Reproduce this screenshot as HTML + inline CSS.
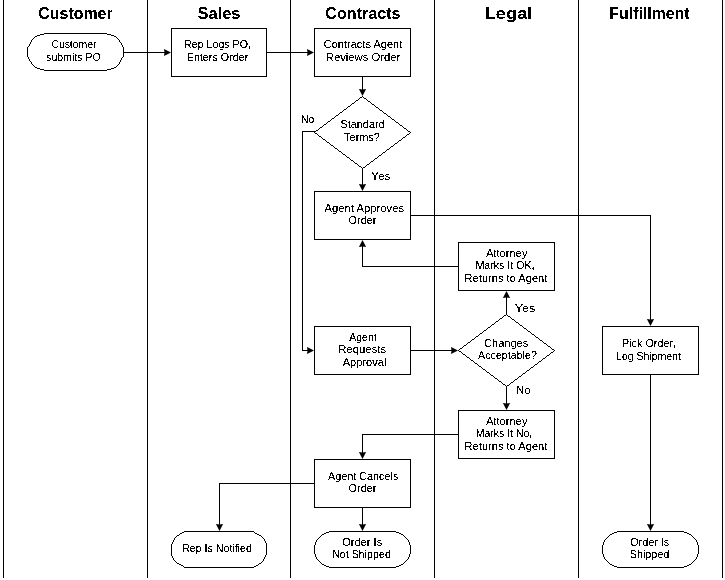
<!DOCTYPE html>
<html><head><meta charset="utf-8"><style>
html,body{margin:0;padding:0;background:#fff;width:725px;height:580px;overflow:hidden}
svg{display:block;filter:grayscale(1)}
.s{fill:#fff;stroke:#000;stroke-width:1;shape-rendering:crispEdges}
.f,.ah{fill:#000}
.d{stroke-width:0.8}
text{font-family:"Liberation Sans",sans-serif;fill:#000;font-variant-ligatures:none;font-feature-settings:"liga" 0,"clig" 0}
.t{font-size:11px}
.h{font-size:16px;font-weight:bold}
</style></head><body>
<svg width="725" height="580" viewBox="0 0 725 580">
<rect class="f" x="3" y="0" width="1" height="578"/>
<rect class="f" x="147" y="0" width="1" height="578"/>
<rect class="f" x="290" y="0" width="1" height="578"/>
<rect class="f" x="434" y="0" width="1" height="578"/>
<rect class="f" x="578" y="0" width="1" height="578"/>
<rect class="f" x="722" y="0" width="1" height="578"/>
<rect class="f" x="123" y="52" width="42" height="1"/>
<polygon class="ah" points="171.00,52.50 164.00,48.90 164.50,52.50 164.00,56.10"/>
<rect class="f" x="266" y="52" width="42" height="1"/>
<polygon class="ah" points="314.00,52.50 307.00,48.90 307.50,52.50 307.00,56.10"/>
<rect class="f" x="362" y="76" width="1" height="14"/>
<polygon class="ah" points="362.50,96.00 358.90,89.00 362.50,89.50 366.10,89.00"/>
<rect class="f" x="362" y="168" width="1" height="17"/>
<polygon class="ah" points="362.50,191.00 358.90,184.00 362.50,184.50 366.10,184.00"/>
<rect class="f" x="302" y="131" width="13" height="1"/>
<rect class="f" x="302" y="131" width="1" height="220"/>
<rect class="f" x="302" y="350" width="6" height="1"/>
<polygon class="ah" points="314.00,350.50 307.00,346.90 307.50,350.50 307.00,354.10"/>
<rect class="f" x="410" y="215" width="241" height="1"/>
<rect class="f" x="650" y="215" width="1" height="105"/>
<polygon class="ah" points="650.50,326.00 646.90,319.00 650.50,319.50 654.10,319.00"/>
<rect class="f" x="362" y="266" width="97" height="1"/>
<rect class="f" x="362" y="246" width="1" height="21"/>
<polygon class="ah" points="362.50,240.00 358.90,247.00 362.50,246.50 366.10,247.00"/>
<rect class="f" x="410" y="350" width="42" height="1"/>
<polygon class="ah" points="458.00,350.50 451.00,346.90 451.50,350.50 451.00,354.10"/>
<rect class="f" x="506" y="297" width="1" height="18"/>
<polygon class="ah" points="506.50,291.00 502.90,298.00 506.50,297.50 510.10,298.00"/>
<rect class="f" x="506" y="386" width="1" height="18"/>
<polygon class="ah" points="506.50,410.00 502.90,403.00 506.50,403.50 510.10,403.00"/>
<rect class="f" x="362" y="434" width="97" height="1"/>
<rect class="f" x="362" y="434" width="1" height="19"/>
<polygon class="ah" points="362.50,459.00 358.90,452.00 362.50,452.50 366.10,452.00"/>
<rect class="f" x="219" y="483" width="96" height="1"/>
<rect class="f" x="219" y="483" width="1" height="42"/>
<polygon class="ah" points="219.50,531.00 215.90,524.00 219.50,524.50 223.10,524.00"/>
<rect class="f" x="362" y="507" width="1" height="18"/>
<polygon class="ah" points="362.50,531.00 358.90,524.00 362.50,524.50 366.10,524.00"/>
<rect class="f" x="650" y="374" width="1" height="151"/>
<polygon class="ah" points="650.50,531.00 646.90,524.00 650.50,524.50 654.10,524.00"/>
<rect class="s" x="171.5" y="28.5" width="95" height="48"/>
<rect class="s" x="314.5" y="28.5" width="96" height="48"/>
<rect class="s" x="314.5" y="191.5" width="96" height="48"/>
<rect class="s" x="458.5" y="242.5" width="96" height="48"/>
<rect class="s" x="314.5" y="326.5" width="96" height="48"/>
<rect class="s" x="602.5" y="326.5" width="96" height="48"/>
<rect class="s" x="458.5" y="410.5" width="96" height="48"/>
<rect class="s" x="314.5" y="459.5" width="96" height="48"/>
<path class="f" d="M44 33h63v1h-63zM40 34h4v1h-4zM107 34h4v1h-4zM37 35h3v1h-3zM111 35h3v1h-3zM35 36h2v1h-2zM114 36h2v1h-2zM34 37h1v1h-1zM116 37h1v1h-1zM33 38h1v1h-1zM117 38h1v1h-1zM32 39h1v1h-1zM118 39h1v1h-1zM31 40h1v1h-1zM119 40h1v1h-1zM31 41h1v1h-1zM119 41h1v1h-1zM30 42h1v1h-1zM120 42h1v1h-1zM30 43h1v1h-1zM121 43h1v1h-1zM29 44h1v1h-1zM121 44h1v1h-1zM29 45h1v1h-1zM122 45h1v1h-1zM28 46h1v1h-1zM122 46h1v1h-1zM27 47h1v1h-1zM123 47h1v1h-1zM27 48h1v1h-1zM123 48h1v1h-1zM27 49h1v1h-1zM123 49h1v1h-1zM27 50h1v1h-1zM123 50h1v1h-1zM27 51h1v1h-1zM123 51h1v1h-1zM27 52h1v1h-1zM123 52h1v1h-1zM27 53h1v1h-1zM123 53h1v1h-1zM27 54h1v1h-1zM123 54h1v1h-1zM27 55h1v1h-1zM123 55h1v1h-1zM27 56h1v1h-1zM123 56h1v1h-1zM28 57h1v1h-1zM122 57h1v1h-1zM28 58h1v1h-1zM121 58h1v1h-1zM29 59h1v1h-1zM121 59h1v1h-1zM29 60h1v1h-1zM120 60h1v1h-1zM30 61h1v1h-1zM120 61h1v1h-1zM31 62h1v1h-1zM119 62h1v1h-1zM31 63h1v1h-1zM119 63h1v1h-1zM32 64h1v1h-1zM118 64h1v1h-1zM33 65h1v1h-1zM117 65h1v1h-1zM34 66h1v1h-1zM116 66h1v1h-1zM35 67h2v1h-2zM114 67h2v1h-2zM37 68h3v1h-3zM111 68h3v1h-3zM40 69h4v1h-4zM107 69h4v1h-4zM44 70h63v1h-63zM362 96h1v1h-1zM360 97h2v1h-2zM363 97h1v1h-1zM359 98h1v1h-1zM364 98h2v1h-2zM358 99h1v1h-1zM366 99h1v1h-1zM356 100h2v1h-2zM367 100h1v1h-1zM355 101h1v1h-1zM368 101h2v1h-2zM354 102h1v1h-1zM370 102h1v1h-1zM352 103h2v1h-2zM371 103h1v1h-1zM351 104h1v1h-1zM372 104h2v1h-2zM350 105h1v1h-1zM374 105h1v1h-1zM348 106h2v1h-2zM375 106h1v1h-1zM347 107h1v1h-1zM376 107h2v1h-2zM346 108h1v1h-1zM378 108h1v1h-1zM344 109h2v1h-2zM379 109h1v1h-1zM343 110h1v1h-1zM380 110h2v1h-2zM342 111h1v1h-1zM382 111h1v1h-1zM340 112h2v1h-2zM383 112h1v1h-1zM339 113h1v1h-1zM384 113h2v1h-2zM338 114h1v1h-1zM386 114h1v1h-1zM336 115h2v1h-2zM387 115h1v1h-1zM335 116h1v1h-1zM388 116h2v1h-2zM334 117h1v1h-1zM390 117h1v1h-1zM332 118h2v1h-2zM391 118h1v1h-1zM331 119h1v1h-1zM392 119h2v1h-2zM330 120h1v1h-1zM394 120h1v1h-1zM328 121h2v1h-2zM395 121h1v1h-1zM327 122h1v1h-1zM396 122h2v1h-2zM326 123h1v1h-1zM398 123h1v1h-1zM324 124h2v1h-2zM399 124h1v1h-1zM323 125h1v1h-1zM400 125h2v1h-2zM322 126h1v1h-1zM402 126h1v1h-1zM320 127h2v1h-2zM403 127h1v1h-1zM319 128h1v1h-1zM404 128h2v1h-2zM318 129h1v1h-1zM406 129h1v1h-1zM316 130h2v1h-2zM407 130h1v1h-1zM315 131h1v1h-1zM408 131h2v1h-2zM314 132h1v1h-1zM410 132h1v1h-1zM315 133h2v1h-2zM409 133h1v1h-1zM317 134h1v1h-1zM407 134h2v1h-2zM318 135h1v1h-1zM406 135h1v1h-1zM319 136h2v1h-2zM405 136h1v1h-1zM321 137h1v1h-1zM403 137h2v1h-2zM322 138h1v1h-1zM402 138h1v1h-1zM323 139h2v1h-2zM401 139h1v1h-1zM325 140h1v1h-1zM399 140h2v1h-2zM326 141h1v1h-1zM398 141h1v1h-1zM327 142h2v1h-2zM397 142h1v1h-1zM329 143h1v1h-1zM395 143h2v1h-2zM330 144h1v1h-1zM394 144h1v1h-1zM331 145h2v1h-2zM393 145h1v1h-1zM333 146h1v1h-1zM391 146h2v1h-2zM334 147h1v1h-1zM390 147h1v1h-1zM335 148h2v1h-2zM389 148h1v1h-1zM337 149h1v1h-1zM387 149h2v1h-2zM338 150h1v1h-1zM386 150h1v1h-1zM339 151h2v1h-2zM385 151h1v1h-1zM341 152h1v1h-1zM383 152h2v1h-2zM342 153h1v1h-1zM382 153h1v1h-1zM343 154h2v1h-2zM381 154h1v1h-1zM345 155h1v1h-1zM379 155h2v1h-2zM346 156h1v1h-1zM378 156h1v1h-1zM347 157h2v1h-2zM377 157h1v1h-1zM349 158h1v1h-1zM375 158h2v1h-2zM350 159h1v1h-1zM374 159h1v1h-1zM351 160h2v1h-2zM373 160h1v1h-1zM353 161h1v1h-1zM371 161h2v1h-2zM354 162h1v1h-1zM370 162h1v1h-1zM355 163h2v1h-2zM369 163h1v1h-1zM357 164h1v1h-1zM367 164h2v1h-2zM358 165h1v1h-1zM366 165h1v1h-1zM359 166h2v1h-2zM365 166h1v1h-1zM361 167h1v1h-1zM363 167h2v1h-2zM362 168h1v1h-1zM506 314h1v1h-1zM504 315h2v1h-2zM507 315h1v1h-1zM503 316h1v1h-1zM508 316h2v1h-2zM502 317h1v1h-1zM510 317h1v1h-1zM500 318h2v1h-2zM511 318h1v1h-1zM499 319h1v1h-1zM512 319h2v1h-2zM498 320h1v1h-1zM514 320h1v1h-1zM496 321h2v1h-2zM515 321h1v1h-1zM495 322h1v1h-1zM516 322h2v1h-2zM494 323h1v1h-1zM518 323h1v1h-1zM492 324h2v1h-2zM519 324h1v1h-1zM491 325h1v1h-1zM520 325h2v1h-2zM490 326h1v1h-1zM522 326h1v1h-1zM488 327h2v1h-2zM523 327h1v1h-1zM487 328h1v1h-1zM524 328h2v1h-2zM486 329h1v1h-1zM526 329h1v1h-1zM484 330h2v1h-2zM527 330h1v1h-1zM483 331h1v1h-1zM528 331h2v1h-2zM482 332h1v1h-1zM530 332h1v1h-1zM480 333h2v1h-2zM531 333h1v1h-1zM479 334h1v1h-1zM532 334h2v1h-2zM478 335h1v1h-1zM534 335h1v1h-1zM476 336h2v1h-2zM535 336h1v1h-1zM475 337h1v1h-1zM536 337h2v1h-2zM474 338h1v1h-1zM538 338h1v1h-1zM472 339h2v1h-2zM539 339h1v1h-1zM471 340h1v1h-1zM540 340h2v1h-2zM470 341h1v1h-1zM542 341h1v1h-1zM468 342h2v1h-2zM543 342h1v1h-1zM467 343h1v1h-1zM544 343h2v1h-2zM466 344h1v1h-1zM546 344h1v1h-1zM464 345h2v1h-2zM547 345h1v1h-1zM463 346h1v1h-1zM548 346h2v1h-2zM462 347h1v1h-1zM550 347h1v1h-1zM460 348h2v1h-2zM551 348h1v1h-1zM459 349h1v1h-1zM552 349h2v1h-2zM458 350h1v1h-1zM554 350h1v1h-1zM459 351h2v1h-2zM553 351h1v1h-1zM461 352h1v1h-1zM551 352h2v1h-2zM462 353h1v1h-1zM550 353h1v1h-1zM463 354h2v1h-2zM549 354h1v1h-1zM465 355h1v1h-1zM547 355h2v1h-2zM466 356h1v1h-1zM546 356h1v1h-1zM467 357h2v1h-2zM545 357h1v1h-1zM469 358h1v1h-1zM543 358h2v1h-2zM470 359h1v1h-1zM542 359h1v1h-1zM471 360h2v1h-2zM541 360h1v1h-1zM473 361h1v1h-1zM539 361h2v1h-2zM474 362h1v1h-1zM538 362h1v1h-1zM475 363h2v1h-2zM537 363h1v1h-1zM477 364h1v1h-1zM535 364h2v1h-2zM478 365h1v1h-1zM534 365h1v1h-1zM479 366h2v1h-2zM533 366h1v1h-1zM481 367h1v1h-1zM531 367h2v1h-2zM482 368h1v1h-1zM530 368h1v1h-1zM483 369h2v1h-2zM529 369h1v1h-1zM485 370h1v1h-1zM527 370h2v1h-2zM486 371h1v1h-1zM526 371h1v1h-1zM487 372h2v1h-2zM525 372h1v1h-1zM489 373h1v1h-1zM523 373h2v1h-2zM490 374h1v1h-1zM522 374h1v1h-1zM491 375h2v1h-2zM521 375h1v1h-1zM493 376h1v1h-1zM519 376h2v1h-2zM494 377h1v1h-1zM518 377h1v1h-1zM495 378h2v1h-2zM517 378h1v1h-1zM497 379h1v1h-1zM515 379h2v1h-2zM498 380h1v1h-1zM514 380h1v1h-1zM499 381h2v1h-2zM513 381h1v1h-1zM501 382h1v1h-1zM511 382h2v1h-2zM502 383h1v1h-1zM510 383h1v1h-1zM503 384h2v1h-2zM509 384h1v1h-1zM505 385h1v1h-1zM507 385h2v1h-2zM506 386h1v1h-1zM184 531h70v1h-70zM329 531h67v1h-67zM617 531h67v1h-67zM182 532h2v1h-2zM254 532h1v1h-1zM326 532h3v1h-3zM396 532h3v1h-3zM614 532h3v1h-3zM684 532h3v1h-3zM180 533h2v1h-2zM255 533h2v1h-2zM324 533h2v1h-2zM399 533h2v1h-2zM612 533h2v1h-2zM687 533h2v1h-2zM179 534h1v1h-1zM257 534h2v1h-2zM322 534h2v1h-2zM401 534h2v1h-2zM610 534h2v1h-2zM689 534h2v1h-2zM177 535h2v1h-2zM259 535h2v1h-2zM321 535h1v1h-1zM403 535h1v1h-1zM609 535h1v1h-1zM691 535h1v1h-1zM176 536h1v1h-1zM261 536h1v1h-1zM320 536h1v1h-1zM404 536h1v1h-1zM608 536h1v1h-1zM692 536h1v1h-1zM175 537h1v1h-1zM262 537h1v1h-1zM319 537h1v1h-1zM405 537h1v1h-1zM607 537h1v1h-1zM693 537h1v1h-1zM174 538h1v1h-1zM263 538h1v1h-1zM318 538h1v1h-1zM406 538h1v1h-1zM606 538h1v1h-1zM694 538h1v1h-1zM174 539h1v1h-1zM264 539h1v1h-1zM317 539h1v1h-1zM407 539h1v1h-1zM605 539h1v1h-1zM695 539h1v1h-1zM173 540h1v1h-1zM264 540h1v1h-1zM316 540h1v1h-1zM408 540h1v1h-1zM604 540h1v1h-1zM696 540h1v1h-1zM173 541h1v1h-1zM265 541h1v1h-1zM316 541h1v1h-1zM408 541h1v1h-1zM604 541h1v1h-1zM696 541h1v1h-1zM172 542h1v1h-1zM265 542h1v1h-1zM315 542h1v1h-1zM409 542h1v1h-1zM603 542h1v1h-1zM697 542h1v1h-1zM172 543h1v1h-1zM266 543h1v1h-1zM315 543h1v1h-1zM409 543h1v1h-1zM603 543h1v1h-1zM697 543h1v1h-1zM171 544h1v1h-1zM266 544h1v1h-1zM315 544h1v1h-1zM409 544h1v1h-1zM603 544h1v1h-1zM697 544h1v1h-1zM171 545h1v1h-1zM266 545h1v1h-1zM314 545h1v1h-1zM410 545h1v1h-1zM602 545h1v1h-1zM698 545h1v1h-1zM171 546h1v1h-1zM266 546h1v1h-1zM314 546h1v1h-1zM410 546h1v1h-1zM602 546h1v1h-1zM698 546h1v1h-1zM171 547h1v1h-1zM266 547h1v1h-1zM314 547h1v1h-1zM410 547h1v1h-1zM602 547h1v1h-1zM698 547h1v1h-1zM171 548h1v1h-1zM266 548h1v1h-1zM314 548h1v1h-1zM410 548h1v1h-1zM602 548h1v1h-1zM698 548h1v1h-1zM171 549h1v1h-1zM266 549h1v1h-1zM314 549h1v1h-1zM410 549h1v1h-1zM602 549h1v1h-1zM698 549h1v1h-1zM171 550h1v1h-1zM266 550h1v1h-1zM314 550h1v1h-1zM410 550h1v1h-1zM602 550h1v1h-1zM698 550h1v1h-1zM171 551h1v1h-1zM266 551h1v1h-1zM314 551h1v1h-1zM410 551h1v1h-1zM602 551h1v1h-1zM698 551h1v1h-1zM171 552h1v1h-1zM266 552h1v1h-1zM314 552h1v1h-1zM410 552h1v1h-1zM602 552h1v1h-1zM698 552h1v1h-1zM171 553h1v1h-1zM266 553h1v1h-1zM314 553h1v1h-1zM410 553h1v1h-1zM602 553h1v1h-1zM698 553h1v1h-1zM171 554h1v1h-1zM266 554h1v1h-1zM315 554h1v1h-1zM409 554h1v1h-1zM603 554h1v1h-1zM697 554h1v1h-1zM171 555h1v1h-1zM265 555h1v1h-1zM315 555h1v1h-1zM409 555h1v1h-1zM603 555h1v1h-1zM697 555h1v1h-1zM172 556h1v1h-1zM265 556h1v1h-1zM315 556h1v1h-1zM409 556h1v1h-1zM603 556h1v1h-1zM697 556h1v1h-1zM172 557h1v1h-1zM264 557h1v1h-1zM316 557h1v1h-1zM408 557h1v1h-1zM604 557h1v1h-1zM696 557h1v1h-1zM173 558h1v1h-1zM264 558h1v1h-1zM316 558h1v1h-1zM408 558h1v1h-1zM604 558h1v1h-1zM696 558h1v1h-1zM173 559h1v1h-1zM263 559h1v1h-1zM317 559h1v1h-1zM407 559h1v1h-1zM605 559h1v1h-1zM695 559h1v1h-1zM174 560h1v1h-1zM263 560h1v1h-1zM318 560h1v1h-1zM406 560h1v1h-1zM606 560h1v1h-1zM694 560h1v1h-1zM175 561h1v1h-1zM262 561h1v1h-1zM319 561h1v1h-1zM405 561h1v1h-1zM607 561h1v1h-1zM693 561h1v1h-1zM176 562h1v1h-1zM261 562h1v1h-1zM320 562h1v1h-1zM404 562h1v1h-1zM608 562h1v1h-1zM692 562h1v1h-1zM177 563h2v1h-2zM259 563h2v1h-2zM321 563h1v1h-1zM403 563h1v1h-1zM609 563h1v1h-1zM691 563h1v1h-1zM179 564h2v1h-2zM258 564h1v1h-1zM322 564h2v1h-2zM401 564h2v1h-2zM610 564h2v1h-2zM689 564h2v1h-2zM181 565h2v1h-2zM256 565h2v1h-2zM324 565h2v1h-2zM399 565h2v1h-2zM612 565h2v1h-2zM687 565h2v1h-2zM183 566h1v1h-1zM254 566h2v1h-2zM326 566h3v1h-3zM396 566h3v1h-3zM614 566h3v1h-3zM684 566h3v1h-3zM184 567h70v1h-70zM329 567h67v1h-67zM617 567h67v1h-67z"/>
<defs><filter id="th" x="0" y="0" width="725" height="580" filterUnits="userSpaceOnUse"><feComponentTransfer><feFuncA type="discrete" tableValues="0 0 0 0 0 0 0 0 0 1 1 1 1 1 1 1 1 1 1 1"/></feComponentTransfer></filter></defs>
<g filter="url(#th)">
<text class="h" x="38.31" y="19" textLength="74.40" lengthAdjust="spacingAndGlyphs">Customer</text>
<text class="h" x="197.48" y="19" textLength="42.98" lengthAdjust="spacingAndGlyphs">Sales</text>
<text class="h" x="325.39" y="19" textLength="75.11" lengthAdjust="spacingAndGlyphs">Contracts</text>
<text class="h" x="484.67" y="19" textLength="47.72" lengthAdjust="spacingAndGlyphs">Legal</text>
<text class="h" x="609.37" y="19" textLength="80.18" lengthAdjust="spacingAndGlyphs">Fulfillment</text>
<text class="t" x="51.42" y="48" textLength="45.02" lengthAdjust="spacingAndGlyphs">Customer</text>
<text class="t" x="46.12" y="61" textLength="54.52" lengthAdjust="spacingAndGlyphs">submits PO</text>
<text class="t" x="184.10" y="48" textLength="66.84" lengthAdjust="spacingAndGlyphs">Rep Logs PO<tspan font-weight="bold">,</tspan></text>
<text class="t" x="186.71" y="61" textLength="61.64" lengthAdjust="spacingAndGlyphs">Enters Order</text>
<text class="t" x="323.75" y="48" textLength="78.50" lengthAdjust="spacingAndGlyphs">Contracts Agent</text>
<text class="t" x="325.83" y="61" textLength="74.32" lengthAdjust="spacingAndGlyphs">Reviews Order</text>
<text class="t" x="340.38" y="128" textLength="44.28" lengthAdjust="spacingAndGlyphs">Standard</text>
<text class="t" x="344.11" y="141" textLength="35.78" lengthAdjust="spacingAndGlyphs">Terms?</text>
<text class="t" x="324.46" y="212" textLength="79.61" lengthAdjust="spacingAndGlyphs">Agent Approves</text>
<text class="t" x="348.50" y="224" textLength="27.96" lengthAdjust="spacingAndGlyphs">Order</text>
<text class="t" x="485.91" y="257" textLength="41.68" lengthAdjust="spacingAndGlyphs">Attorney</text>
<text class="t" x="475.40" y="269" textLength="59.20" lengthAdjust="spacingAndGlyphs">Marks It OK<tspan font-weight="bold">,</tspan></text>
<text class="t" x="464.62" y="282" textLength="82.75" lengthAdjust="spacingAndGlyphs">Returns to Agent</text>
<text class="t" x="349.35" y="341" textLength="27.25" lengthAdjust="spacingAndGlyphs">Agent</text>
<text class="t" x="338.36" y="353" textLength="47.72" lengthAdjust="spacingAndGlyphs">Requests</text>
<text class="t" x="342.68" y="366" textLength="43.68" lengthAdjust="spacingAndGlyphs">Approval</text>
<text class="t" x="484.06" y="347" textLength="44.25" lengthAdjust="spacingAndGlyphs">Changes</text>
<text class="t" x="478.06" y="359" textLength="58.87" lengthAdjust="spacingAndGlyphs">Acceptable?</text>
<text class="t" x="621.95" y="347" textLength="54.11" lengthAdjust="spacingAndGlyphs">Pick Order<tspan font-weight="bold">,</tspan></text>
<text class="t" x="616.04" y="360" textLength="64.94" lengthAdjust="spacingAndGlyphs">Log Shipment</text>
<text class="t" x="485.91" y="425" textLength="41.68" lengthAdjust="spacingAndGlyphs">Attorney</text>
<text class="t" x="475.86" y="437" textLength="56.27" lengthAdjust="spacingAndGlyphs">Marks It No<tspan font-weight="bold">,</tspan></text>
<text class="t" x="464.62" y="450" textLength="82.75" lengthAdjust="spacingAndGlyphs">Returns to Agent</text>
<text class="t" x="328.07" y="480" textLength="70.22" lengthAdjust="spacingAndGlyphs">Agent Cancels</text>
<text class="t" x="348.50" y="492" textLength="27.96" lengthAdjust="spacingAndGlyphs">Order</text>
<text class="t" x="182.13" y="552" textLength="69.71" lengthAdjust="spacingAndGlyphs">Rep Is Notified</text>
<text class="t" x="342.28" y="546" textLength="39.95" lengthAdjust="spacingAndGlyphs">Order Is</text>
<text class="t" x="332.14" y="558" textLength="58.71" lengthAdjust="spacingAndGlyphs">Not Shipped</text>
<text class="t" x="630.13" y="546" textLength="39.13" lengthAdjust="spacingAndGlyphs">Order Is</text>
<text class="t" x="629.76" y="558" textLength="39.48" lengthAdjust="spacingAndGlyphs">Shipped</text>
<text class="t" x="301.01" y="123" textLength="13.09" lengthAdjust="spacingAndGlyphs">No</text>
<text class="t" x="371.00" y="180" textLength="19.61" lengthAdjust="spacingAndGlyphs">Yes</text>
<text class="t" x="514.69" y="312" textLength="20.70" lengthAdjust="spacingAndGlyphs">Yes</text>
<text class="t" x="516.31" y="394" textLength="14.38" lengthAdjust="spacingAndGlyphs">No</text>
</g>
</svg>
</body></html>
